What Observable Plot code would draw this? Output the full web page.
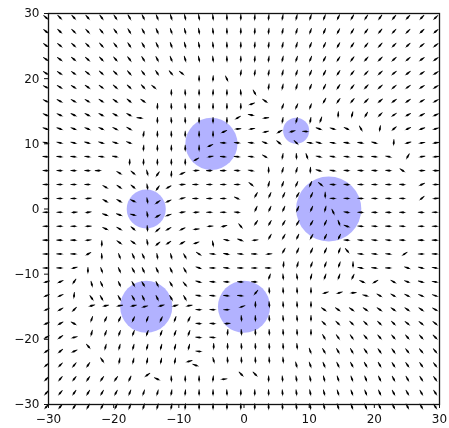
<!DOCTYPE html>
<html><head><meta charset="utf-8">
<style>html,body{margin:0;padding:0;background:#fff}svg{display:block;filter:blur(0.35px)}</style>
<script src="https://cdn.jsdelivr.net/npm/d3@7"></script>
<script src="https://cdn.jsdelivr.net/npm/@observablehq/plot@0.6"></script>
</head><body><div id="chart"></div>
<script>
const tickValues = [-30,-20,-10,0,10,20,30];
const obstacleX = [-5, 8, 13, -15, -15, 0];
const obstacleY = [10, 12, 0, 0, -15, -15];
const obstacleR = [4, 2, 5, 3, 4, 4];
const columnX = [-30.35,-28.22,-26.08,-23.95,-21.82,-19.68,-17.55,-15.42,-13.29,-11.15,-9.02,-6.89,-4.75,-2.62,-0.49,1.65,3.78,5.91,8.05,10.18,12.31,14.45,16.58,18.71,20.85,22.98,25.11,27.25,29.38];
const rowY = [29.35,27.22,25.08,22.95,20.82,18.68,16.55,14.42,12.29,10.15,8.02,5.89,3.75,1.62,-0.51,-2.65,-4.78,-6.91,-9.05,-11.18,-13.31,-15.45,-17.58,-19.71,-21.85,-23.98,-26.11,-28.25,-30.38];
// tilt of each arrow from vertical, degrees (+ leans like "\", - like "/")
const tilt = [
[48,45,42,40,37,34,30,26,22,18,14,10,6,2,0,-3,-6,-10,-14,-18,-22,-26,-30,-33,-36,-39,-42,-44,-46],
[50,47,45,42,39,36,32,28,24,19,15,10,6,2,0,-3,-7,-11,-15,-19,-24,-28,-32,-36,-39,-42,-45,-47,-49],
[53,50,48,45,42,38,34,30,25,20,16,11,6,2,0,-4,-7,-12,-16,-21,-26,-30,-34,-38,-42,-45,-47,-50,-52],
[56,53,51,48,44,41,37,32,27,22,17,12,6,2,0,-4,-8,-13,-18,-23,-28,-33,-37,-41,-45,-48,-50,-53,-55],
[58,56,54,51,48,45,41,37,33,40,50,0,-3,25,-8,-8,-10,-13,-18,-23,-28,-33,-38,-43,-47,-50,-53,-55,-57],
[60,59,57,55,52,49,46,42,50,0,3,0,-2,0,5,30,-8,-12,-16,-21,-27,-33,-38,-43,-47,-50,-54,-56,-58],
[63,62,60,58,56,54,50,55,-3,3,3,0,0,0,0,-70,55,-20,-25,-20,-30,-35,-40,-45,-50,-53,-55,-58,-60],
[66,65,64,62,60,60,60,85,0,5,3,0,0,0,-60,78,-85,-10,-15,-10,-20,-3,-15,-30,-45,-55,-60,-62,-65],
[70,70,68,67,65,63,60,-10,0,2,0,0,0,-65,-85,-80,-78,-60,-75,85,70,72,65,30,-10,-50,-65,-70,-72],
[78,78,76,75,73,72,70,-5,0,0,0,0,-65,88,85,85,70,50,45,80,75,80,82,82,75,-3,-75,-80,-82],
[85,85,84,83,82,80,-2,-2,0,0,0,-60,-80,85,85,82,60,-10,3,20,78,80,82,85,85,78,-30,-80,-85],
[88,88,88,88,90,60,50,15,-35,-3,-65,-85,90,90,85,80,0,-15,-15,-3,75,82,85,85,85,85,55,-88,-90],
[90,90,90,90,60,55,50,10,-35,-60,-85,90,90,90,90,50,-15,-20,-25,-25,50,85,85,88,88,88,85,-65,-88],
[90,90,90,-85,60,60,65,10,-55,-65,-75,90,90,90,65,-30,-25,-25,-30,-25,0,88,88,88,88,88,88,-50,-85],
[90,90,-85,-80,70,70,75,10,-60,-70,-80,-85,90,90,85,-25,-25,-25,-25,-25,-15,25,80,88,88,88,88,88,90],
[90,90,90,-88,65,60,50,5,-50,-60,-65,-85,-85,-75,40,-35,-30,-30,-30,-30,-25,20,70,85,85,88,85,90,90],
[90,90,90,-85,0,55,55,10,-50,-55,-60,-70,10,75,70,-85,-30,-30,-25,-30,-25,-25,88,85,85,85,88,90,90],
[90,88,88,-60,3,20,25,25,10,15,30,55,85,80,85,88,-85,-30,-25,-25,-25,-20,40,85,85,85,-55,90,88],
[90,88,-75,0,20,25,28,25,25,25,30,70,88,85,88,90,88,-5,-15,-20,-20,-20,0,78,85,88,70,75,80],
[-75,-65,-35,15,25,25,30,30,25,30,40,75,85,88,88,88,-20,5,8,-15,-20,-20,-25,65,-60,60,70,75,80],
[-65,-65,-5,35,30,30,30,25,25,30,30,80,85,85,85,-40,3,3,3,0,-75,-75,-85,75,60,60,62,65,70],
[-65,-60,-45,-75,-78,-80,-78,-75,-75,-75,-80,88,88,90,-70,0,5,3,3,0,55,55,55,55,55,55,55,55,60],
[-65,-60,60,-20,-25,-25,-25,-20,-25,-20,-25,85,85,-85,5,3,3,5,5,0,45,45,45,45,45,45,50,50,50],
[-60,-55,-75,-15,-20,-20,-20,-20,-20,-20,-20,85,85,-5,5,3,3,3,3,0,30,35,35,40,40,40,40,42,45],
[-55,-50,-65,40,-15,-15,-15,-15,-15,-15,-15,85,0,0,5,3,3,3,5,20,30,30,30,35,35,35,38,40,40],
[-50,-45,-40,-35,35,-10,-12,-10,-12,-10,-75,70,15,5,3,3,3,5,15,20,22,25,28,30,30,32,35,35,38],
[-45,-40,-38,-35,-35,-35,-25,-55,65,3,0,0,-5,-85,45,45,0,5,10,12,15,18,20,22,25,28,30,32,35],
[-42,-40,-35,-32,-30,-28,-22,-18,-15,-10,-5,0,0,3,0,0,2,5,8,12,15,18,20,22,25,28,30,30,33],
[-42,-40,-35,-30,-28,-25,-22,-18,-15,-10,-5,0,0,0,0,0,3,5,8,10,15,18,20,22,25,28,28,30,33]
];
// local displacement code of each arrow
const shiftCode = [
".............................",
".............................",
".............................",
".............................",
"..........lddd...............",
"........lddddddd.............",
"........dddddddmlddd.........",
".......mddddddmlmdddM........",
".......ddddddmllmmnnLLLL.....",
".......dddddmlllll..LLLLL....",
"......dddddmlllll..lLLLLLL...",
"....lrrreemlllll....LLLLLLL..",
"....rrrremllllll....lLLLLLL..",
"....rrrremllllluuuuuuLLLLLL..",
"....rrrremllllluuuuuuLLLLLL..",
"....rrrremmmll.uuuuuuuLLLLL..",
"....errremmme...uuuuuuLLLLL..",
"....hrrhhhh......uuuuupLLLl..",
"...hhrrhhhh......uuuuuuLLL...",
"...rhrrhhhh.....UUUUUUUlL....",
"...rhrrhhhh....uUUUUuuu......",
"...qqqquqqq...uUUUUU.........",
"...qqqqqqqq...UUUUUU.........",
"...qqqqqqqq..UUUUUUU.........",
"...Uqqqqqqq.UUUUUUU..........",
"....UqqqqqqlUUUUUU...........",
".......q.....lUU.............",
".............................",
"............................."
];
const shifts = {
  ".":[0,0], d:[0,-.87], e:[0,-.61], h:[0,-.41], u:[.15,.45], U:[.1,.72],
  l:[-.5,0], L:[-.75,0], m:[-.5,-.45], M:[-.55,-.8], n:[-.7,-.4],
  r:[.6,-.4], p:[-.7,.45], q:[.55,.6]
};

const obstacles = obstacleX.map((x,i)=>({x,y:obstacleY[i],r:obstacleR[i]}));
const arrows = [];
rowY.forEach((y,i)=>columnX.forEach((x,j)=>{
  const s = shifts[shiftCode[i][j]] || shifts["."];
  arrows.push({x:x+s[0], y:y+s[1], rotate:180-tilt[i][j]});
}));
const arrowShape = {
  draw(c,l,r){
    c.moveTo(-.3,0); c.lineTo(.3,0); c.lineTo(1.05,-l*.55); c.lineTo(.25,-l*.8); c.lineTo(0,-l); c.lineTo(-.25,-l*.8); c.lineTo(-1.05,-l*.55);
    c.closePath();
  }
};
const ink = "#111";
const chart = Plot.plot({
  width:449, height:428,
  marginLeft:48, marginRight:10, marginTop:13, marginBottom:24,
  x:{domain:[-30,30]}, y:{domain:[-30,30]},
  r:{type:"linear", domain:[0,5], range:[0,32.6]},
  style:{fontFamily:"'DejaVu Sans'", fontSize:"12px", color:ink, background:"#fff"},
  marks:[
    Plot.dot(obstacles,{x:"x",y:"y",r:"r",fill:"#0000ff",fillOpacity:0.3,stroke:"none"}),
    Plot.vector(arrows,{x:"x",y:"y",rotate:"rotate",length:7.5,anchor:"middle",shape:arrowShape,fill:"#000",stroke:"none"}),
    Plot.frame({stroke:ink,strokeWidth:1.3}),
    Plot.axisX({ticks:tickValues,tickSize:4,tickPadding:6,label:null,fontSize:12}),
    Plot.axisY({ticks:tickValues,tickSize:4,tickPadding:5,label:null,fontSize:12})
  ]
});
document.getElementById("chart").append(chart);
</script></body></html>
